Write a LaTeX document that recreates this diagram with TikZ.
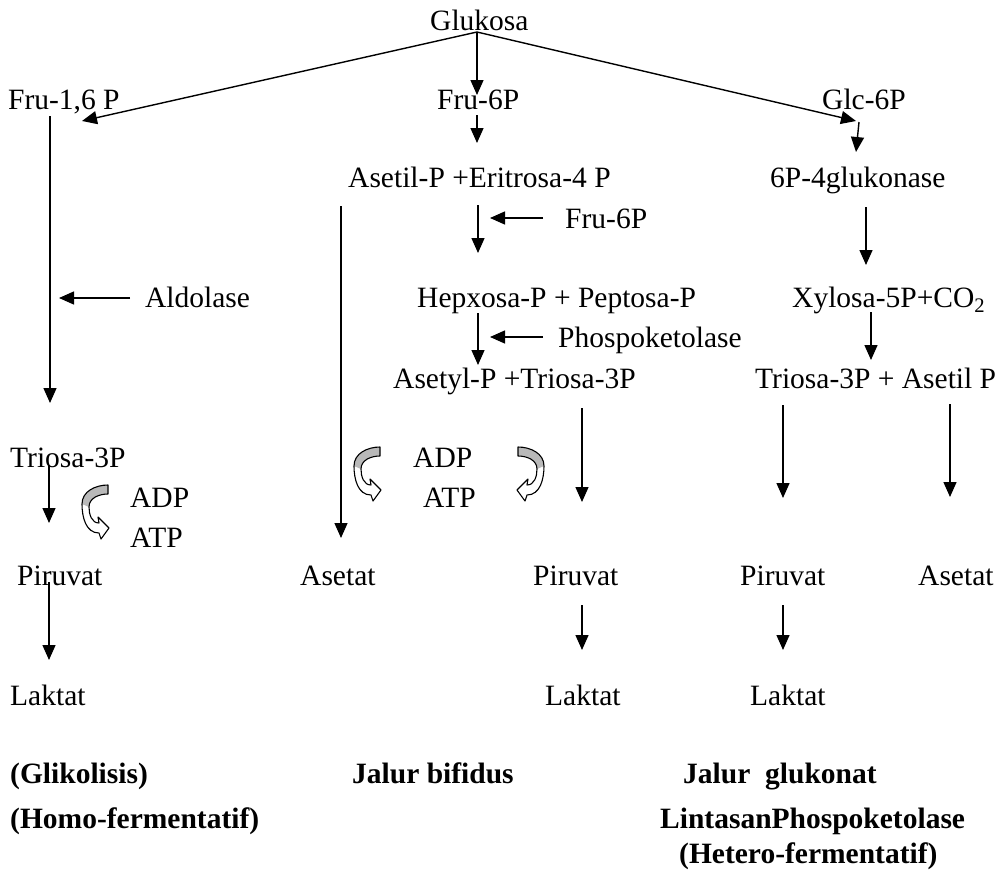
\documentclass[tikz,border=0pt]{standalone}
\usepackage{fontspec}
\setmainfont{Liberation Serif}
\usetikzlibrary{arrows.meta}
\begin{document}
\begin{tikzpicture}[x=1pt,y=1pt,
  txt/.style={inner sep=0pt, anchor=base west, font=\fontsize{29.5}{35}\selectfont},
  btxt/.style={txt, font=\fontsize{29.5}{35}\selectfont\bfseries},
  arr/.style={line width=1.4pt, -{Triangle[length=15pt,width=13pt]}},
  curvarr/.pic={
    \fill[white] (0,22) to[out=180,in=90] (-26,3) to[out=-90,in=180] (-9,-26)
      -- (-7,-32) -- (1,-21) -- (-10,-10) -- (-9,-16)
      to[out=180,in=-90] (-19,0) to[out=90,in=180] (0,13) -- cycle;
    \fill[gray!55] (0,22) to[out=180,in=90] (-26,3) -- (-19,0)
      to[out=90,in=180] (0,13) -- cycle;
    \draw[line width=1.1pt, line join=round] (0,22) to[out=180,in=90] (-26,3) to[out=-90,in=180] (-9,-26)
      -- (-7,-32) -- (1,-21) -- (-10,-10) -- (-9,-16)
      to[out=180,in=-90] (-19,0) to[out=90,in=180] (0,13) -- cycle;
  }]
\useasboundingbox (0,0) rectangle (1005,-871);

% text nodes
\node[txt] (glu) at (430,-30) {Glukosa};
\node[txt] (fru16) at (8,-109) {Fru-1,6 P};
\node[txt] (fru6) at (437,-109) {Fru-6P};
\node[txt] (glc6) at (822,-109) {Glc-6P};
\node[txt] (aset) at (348,-187) {Asetil-P +Eritrosa-4 P};
\node[txt] (glukon) at (770,-187) {6P-4glukonase};
\node[txt] (fru6b) at (565,-228) {Fru-6P};
\node[txt] (aldo) at (145,-307) {Aldolase};
\node[txt] (hep) at (417,-307) {Hepxosa-P + Peptosa-P};
\node[txt] (xyl) at (792,-307) {Xylosa-5P+CO\textsubscript{2}};
\node[txt] (phos) at (558,-347) {Phospoketolase};
\node[txt] (asety) at (393,-388) {Asetyl-P +Triosa-3P};
\node[txt] (trias) at (755,-388) {Triosa-3P + Asetil P};
\node[txt] (trio) at (10,-467) {Triosa-3P};
\node[txt] (adp1) at (130,-507) {ADP};
\node[txt] (atp1) at (130,-547) {ATP};
\node[txt] (adp2) at (413,-467) {ADP};
\node[txt] (atp2) at (423,-507) {ATP};
\node[txt] (pir1) at (17,-585) {Piruvat};
\node[txt] (asat1) at (300,-585) {Asetat};
\node[txt] (pir2) at (533,-585) {Piruvat};
\node[txt] (pir3) at (740,-585) {Piruvat};
\node[txt] (asat2) at (918,-585) {Asetat};
\node[txt] (lak1) at (10,-705) {Laktat};
\node[txt] (lak2) at (545,-705) {Laktat};
\node[txt] (lak3) at (750,-705) {Laktat};
\node[btxt] (gli) at (10,-783) {(Glikolisis)};
\node[btxt] (homo) at (10,-828) {(Homo-fermentatif)};
\node[btxt] (bif) at (352,-783) {Jalur bifidus};
\node[btxt] (gluk) at (683,-783) {Jalur\ \ glukonat};
\node[btxt] (lint) at (660,-828) {LintasanPhospoketolase};
\node[btxt] (het) at (679,-863) {(Hetero-fermentatif)};

% connector end points
\coordinate (g0) at (477,-32);
\coordinate (t16) at (82,-121);
\coordinate (t6) at (477,-95);
\coordinate (tg) at (856,-121);
\coordinate (g1) at (859,-122);
\coordinate (g2) at (856,-152);
\coordinate (f1) at (477,-115);
\coordinate (f2) at (477,-143);
\coordinate (l1) at (50,-116);
\coordinate (l2) at (50,-403);
\coordinate (al1) at (130,-298);
\coordinate (al2) at (59,-298);
\coordinate (as1) at (341,-206);
\coordinate (as2) at (341,-538);
\coordinate (m1) at (478,-205);
\coordinate (m2) at (478,-253);
\coordinate (m3) at (478,-313);
\coordinate (m4) at (478,-365);
\coordinate (fb1) at (543,-218);
\coordinate (fb2) at (490,-218);
\coordinate (ph1) at (543,-337);
\coordinate (ph2) at (490,-337);
\coordinate (r1) at (866,-207);
\coordinate (r2) at (866,-265);
\coordinate (r3) at (871,-312);
\coordinate (r4) at (871,-360);
\coordinate (p1) at (582,-408);
\coordinate (p2) at (582,-502);
\coordinate (q1) at (783,-405);
\coordinate (q2) at (783,-498);
\coordinate (s1) at (950,-404);
\coordinate (s2) at (950,-497);
\coordinate (tl1) at (49,-465);
\coordinate (tl2) at (49,-523);
\coordinate (pl1) at (49,-582);
\coordinate (pl2) at (49,-660);
\coordinate (pm1) at (582,-605);
\coordinate (pm2) at (582,-650);
\coordinate (pr1) at (783,-605);
\coordinate (pr2) at (783,-650);

% connectors
\draw[arr] (g0) -- (t16);
\draw[arr] (g0) -- (t6);
\draw[arr] (g0) -- (tg);
\draw[arr] (g1) -- (g2);
\draw[arr] (f1) -- (f2);
\draw[arr] (l1) -- (l2);
\draw[arr] (al1) -- (al2);
\draw[arr] (as1) -- (as2);
\draw[arr] (m1) -- (m2);
\draw[arr] (m3) -- (m4);
\draw[arr] (fb1) -- (fb2);
\draw[arr] (ph1) -- (ph2);
\draw[arr] (r1) -- (r2);
\draw[arr] (r3) -- (r4);
\draw[arr] (p1) -- (p2);
\draw[arr] (q1) -- (q2);
\draw[arr] (s1) -- (s2);
\draw[arr] (tl1) -- (tl2);
\draw[arr] (pl1) -- (pl2);
\draw[arr] (pm1) -- (pm2);
\draw[arr] (pr1) -- (pr2);

% curved block arrows
\pic at (108,-507) {curvarr};
\pic at (380,-469) {curvarr};
\pic[xscale=-1] at (518,-469) {curvarr};
\end{tikzpicture}
\end{document}
